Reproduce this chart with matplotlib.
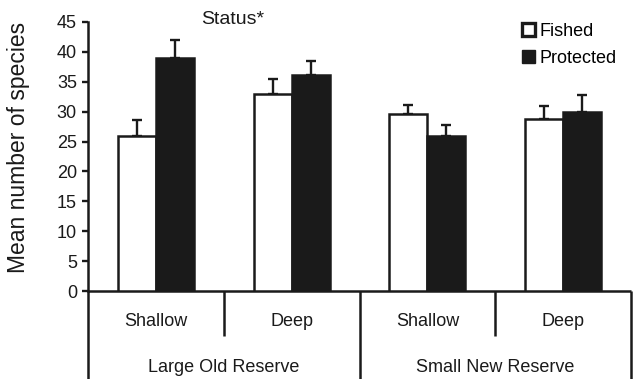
import numpy as np
import matplotlib
matplotlib.use("Agg")
import matplotlib.pyplot as plt
from matplotlib.patches import Patch

plt.rcParams['font.family'] = ['Liberation Sans', 'DejaVu Sans']

# mean species counts (upper SE bars only)
depths = ['Shallow', 'Deep', 'Shallow', 'Deep']
reserves = ['Large Old Reserve', 'Small New Reserve']
fished = [26.0, 32.9, 29.6, 28.8]
fished_se = [2.6, 2.5, 1.5, 2.1]
protected = [39.0, 36.1, 25.9, 29.9]
protected_se = [3.0, 2.4, 1.9, 2.9]

dark = '#1a1a1a'
x = np.arange(len(depths))
w = 0.28

fig = plt.figure(figsize=(6.34, 3.79), dpi=100)
ax = fig.add_axes([88 / 634, 88 / 379, 543 / 634, 269 / 379])

ax.bar(x - w / 2, fished, w, color='white', edgecolor=dark, linewidth=1.8, zorder=3)
ax.bar(x + w / 2, protected, w, color=dark, edgecolor=dark, linewidth=1.8, zorder=3)
ax.errorbar(x - w / 2, fished, yerr=[np.zeros(4), fished_se], fmt='none',
            ecolor=dark, elinewidth=1.7, capsize=3.6, capthick=1.7, zorder=2)
ax.errorbar(x + w / 2, protected, yerr=[np.zeros(4), protected_se], fmt='none',
            ecolor=dark, elinewidth=1.7, capsize=3.6, capthick=1.7, zorder=2)

ax.set_xlim(-0.5, 3.5)
ax.set_ylim(0, 45)
ax.set_yticks(np.arange(0, 46, 5))
ax.set_xticks([])
ax.tick_params(axis='y', labelsize=13, length=4, width=1.7, pad=4, colors=dark)
for s in ['top', 'right', 'bottom']:
    ax.spines[s].set_visible(False)
ax.spines['left'].set_linewidth(1.8)
ax.spines['left'].set_color(dark)
ax.set_ylabel('Mean number of species', fontsize=16.5, color=dark)
ax.yaxis.set_label_coords(-0.107, 0.535)

# category table under the axis
tr = ax.get_xaxis_transform()
line_kw = dict(color=dark, lw=1.8, clip_on=False, transform=tr, solid_capstyle='butt')
ax.plot([-0.5, 3.5], [0, 0], **line_kw)
for xs in [-0.5, 1.5, 3.5]:
    ax.plot([xs, xs], [0, -0.33], **line_kw)
for xs in [0.5, 2.5]:
    ax.plot([xs, xs], [0, -0.167], **line_kw)
for xi, d in zip(x, depths):
    ax.text(xi, -0.112, d, transform=tr, ha='center', va='center', fontsize=13, color=dark)
for gi, r in enumerate(reserves):
    ax.text(0.5 + 2 * gi, -0.286, r, transform=tr, ha='center', va='center', fontsize=13, color=dark)

ax.text(233 / 634, 1 - 19 / 379, 'Status*', transform=fig.transFigure,
        ha='center', va='center', fontsize=14, color=dark)

handles = [Patch(facecolor='white', edgecolor=dark, linewidth=2.4, label='Fished'),
           Patch(facecolor=dark, edgecolor=dark, label='Protected')]
ax.legend(handles=handles, loc='upper left', bbox_to_anchor=(522 / 634, 1 - 23 / 379),
          bbox_transform=fig.transFigure, frameon=False, fontsize=13,
          handlelength=0.7, handleheight=0.7, handletextpad=0.25, labelspacing=0.55,
          borderpad=0, borderaxespad=0)

fig.savefig('out.png', dpi=100)
